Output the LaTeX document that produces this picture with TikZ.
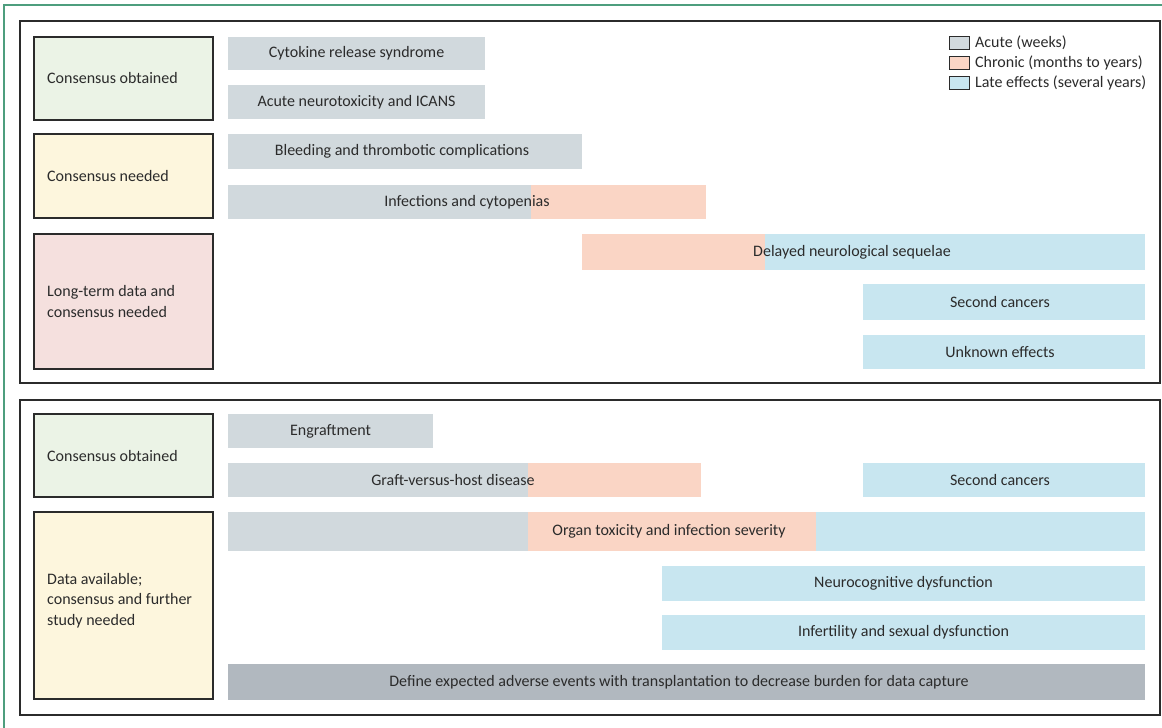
\documentclass[tikz,border=0pt]{standalone}
\usepackage{fontspec}
\setmainfont{Carlito}
\definecolor{acute}{HTML}{D1D9DD}
\definecolor{chronic}{HTML}{FAD5C5}
\definecolor{late}{HTML}{C8E6F0}
\definecolor{define}{HTML}{B1B8BF}
\definecolor{lgreen}{HTML}{EBF3E6}
\definecolor{lyellow}{HTML}{FDF6DD}
\definecolor{lpink}{HTML}{F5E0DE}
\definecolor{ink}{HTML}{2B2B2B}
\definecolor{teal}{HTML}{4E9E7E}
\tikzset{
  txt/.style={font=\fontsize{16}{20.5}\selectfont, text=ink, inner sep=0pt},
  panel/.style={draw=ink, line width=1.4pt},
  labelbox/.style={draw=ink, line width=1.2pt},
  legbox/.style={draw=ink, line width=1pt},
}
\newcommand{\seg}[5]{\fill[#5] (#1,#2) rectangle (#3,#4);}
\begin{document}
\begin{tikzpicture}[x=1pt,y=-1pt]
\useasboundingbox (0,0) rectangle (1162,728);
\fill[white] (0,0) rectangle (1162,728);
% teal frame
\draw[teal, line width=1.6pt] (4,728) -- (4,5) -- (1162,5);
% panels
\draw[panel] (20,21) rectangle (1160,383);
\draw[panel] (20,400) rectangle (1160,715);
% label boxes panel 1
\draw[labelbox, fill=lgreen] (34,37) rectangle (213,120);
\node[txt, anchor=west] (l1) at (47,78.5) {Consensus obtained};
\draw[labelbox, fill=lyellow] (34,134) rectangle (213,218);
\node[txt, anchor=west] (l2) at (47,176) {Consensus needed};
\draw[labelbox, fill=lpink] (34,234) rectangle (213,369);
\node[txt, anchor=west, align=left] (l3) at (47,301.5) {Long-term data and\\consensus needed};
% label boxes panel 2
\draw[labelbox, fill=lgreen] (34,414) rectangle (213,497);
\node[txt, anchor=west] (l4) at (47,455.5) {Consensus obtained};
\draw[labelbox, fill=lyellow] (34,512) rectangle (213,699);
\node[txt, anchor=west, align=left] (l5) at (47,600.5) {Data available;\\consensus and further\\study needed};
% bars panel 1
\seg{228}{37}{485}{70}{acute}
\node[txt] (b1) at (356.5,53.5) {Cytokine release syndrome};
\seg{228}{85}{485}{119}{acute}
\node[txt] (b2) at (356.5,102) {Acute neurotoxicity and ICANS};
\seg{228}{134}{582}{169}{acute}
\node[txt] (b3) at (402,151.5) {Bleeding and thrombotic complications};
\seg{228}{185}{531}{219}{acute}
\seg{531}{185}{706}{219}{chronic}
\node[txt] (b4) at (467,202) {Infections and cytopenias};
\seg{582}{234}{765}{270}{chronic}
\seg{765}{234}{1145}{270}{late}
\node[txt] (b5) at (852,252) {Delayed neurological sequelae};
\seg{863}{284}{1145}{320}{late}
\node[txt] (b6) at (1000,302) {Second cancers};
\seg{863}{335}{1145}{369}{late}
\node[txt] (b7) at (1000,352) {Unknown effects};
% legend
\draw[legbox, fill=acute] (949,36) rectangle (969,49);
\node[txt, anchor=west] (g1) at (975,42.5) {Acute (weeks)};
\draw[legbox, fill=chronic] (949,56) rectangle (969,69);
\node[txt, anchor=west] (g2) at (975,62.5) {Chronic (months to years)};
\draw[legbox, fill=late] (949,76) rectangle (969,89);
\node[txt, anchor=west] (g3) at (975,82.5) {Late effects (several years)};
% bars panel 2
\seg{228}{414}{433}{448}{acute}
\node[txt] (c1) at (330.5,431) {Engraftment};
\seg{228}{463}{528}{497}{acute}
\seg{528}{463}{701}{497}{chronic}
\node[txt] (c2) at (453,480) {Graft-versus-host disease};
\seg{863}{463}{1145}{497}{late}
\node[txt] (c3) at (1000,480) {Second cancers};
\seg{228}{512}{528}{551}{acute}
\seg{528}{512}{816}{551}{chronic}
\seg{816}{512}{1145}{551}{late}
\node[txt] (c4) at (669,531.5) {Organ toxicity and infection severity};
\seg{662}{566}{1145}{601}{late}
\node[txt] (c5) at (903.5,583.5) {Neurocognitive dysfunction};
\seg{662}{615}{1145}{650}{late}
\node[txt] (c6) at (903.5,632.5) {Infertility and sexual dysfunction};
\seg{228}{664}{1145}{700}{define}
\node[txt] (c7) at (679,682) {Define expected adverse events with transplantation to decrease burden for data capture};
\end{tikzpicture}
\end{document}
